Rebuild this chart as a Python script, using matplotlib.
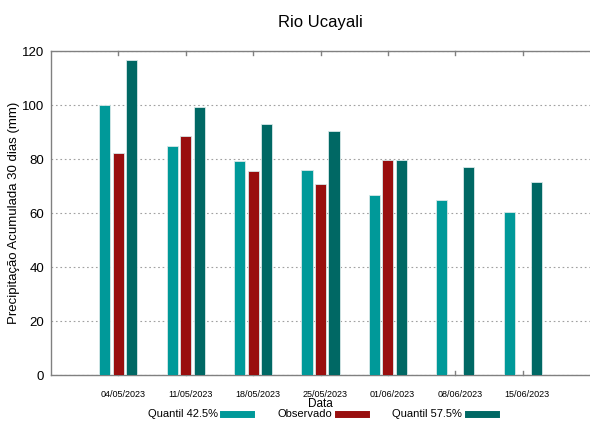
import matplotlib.pyplot as plt
import numpy as np
from matplotlib.lines import Line2D

plt.rcParams["font.family"] = ["Liberation Sans", "DejaVu Sans"]

dates = ["04/05/2023", "11/05/2023", "18/05/2023", "25/05/2023",
         "01/06/2023", "08/06/2023", "15/06/2023"]
q425 = [100.0, 84.8, 79.3, 76.0, 66.7, 64.8, 60.4]
observado = [82.2, 88.5, 75.6, 70.7, 79.6, np.nan, np.nan]
q575 = [116.7, 99.3, 93.0, 90.4, 79.6, 77.0, 71.5]

c_q425 = "#009999"
c_obs = "#990e0e"
c_q575 = "#006864"
axis_gray = "#808080"

fig = plt.figure(figsize=(5.9, 4.21), dpi=100)
ax = fig.add_axes([51 / 590, 1 - 375 / 421, 1 - 51 / 590, (375 - 51) / 421])

x = np.arange(len(dates))
width = 0.165
offset = 0.2
edge = dict(edgecolor="#d8e8e8", linewidth=0.6)
ax.bar(x - offset, q425, width, color=c_q425, zorder=3, **edge)
ax.bar(x, observado, width, color=c_obs, zorder=3, **edge)
ax.bar(x + offset, q575, width, color=c_q575, zorder=3, **edge)

ax.set_xlim(-1, 7)
ax.set_ylim(0, 120)
ax.set_yticks(np.arange(0, 121, 20))
ax.set_xticks(x + 0.07)
ax.set_xticklabels(dates, fontsize=6.5)
ax.tick_params(axis="x", direction="in", top=True, length=0, pad=11)
ax.tick_params(axis="y", direction="in", length=0, labelsize=9.5, pad=5)

# tick marks sit at group centres, labels slightly to the right (gnuplot look)
for xi in x:
    ax.plot([xi, xi], [0, 1.5], color=axis_gray, lw=1.0, zorder=2, clip_on=False)
    ax.plot([xi, xi], [120, 118.5], color=axis_gray, lw=1.0, zorder=2, clip_on=False)

ax.yaxis.grid(True, linestyle=(0, (1.5, 2.5)), color="#a0a0a0", linewidth=0.8, zorder=0)
for side in ["left", "bottom", "top"]:
    ax.spines[side].set_color(axis_gray)
    ax.spines[side].set_linewidth(1.0)
ax.spines["right"].set_visible(False)

ax.set_ylabel("Precipitação Acumulada 30 dias (mm)", fontsize=9.5, labelpad=1)
ax.set_xlabel("Data", fontsize=8.5, labelpad=-1)
ax.set_title("Rio Ucayali", fontsize=12, pad=17)

handles = [Line2D([], [], color=c, linewidth=5) for c in (c_q425, c_obs, c_q575)]
fig.legend(handles, ["Quantil 42.5%", "Observado", "Quantil 57.5%"],
           loc="lower center", bbox_to_anchor=(0.545, -0.02), ncol=3, frameon=False,
           markerfirst=False, fontsize=8, handlelength=2.5, columnspacing=2.4,
           handletextpad=0.5)

fig.savefig("out.png", dpi=100)
